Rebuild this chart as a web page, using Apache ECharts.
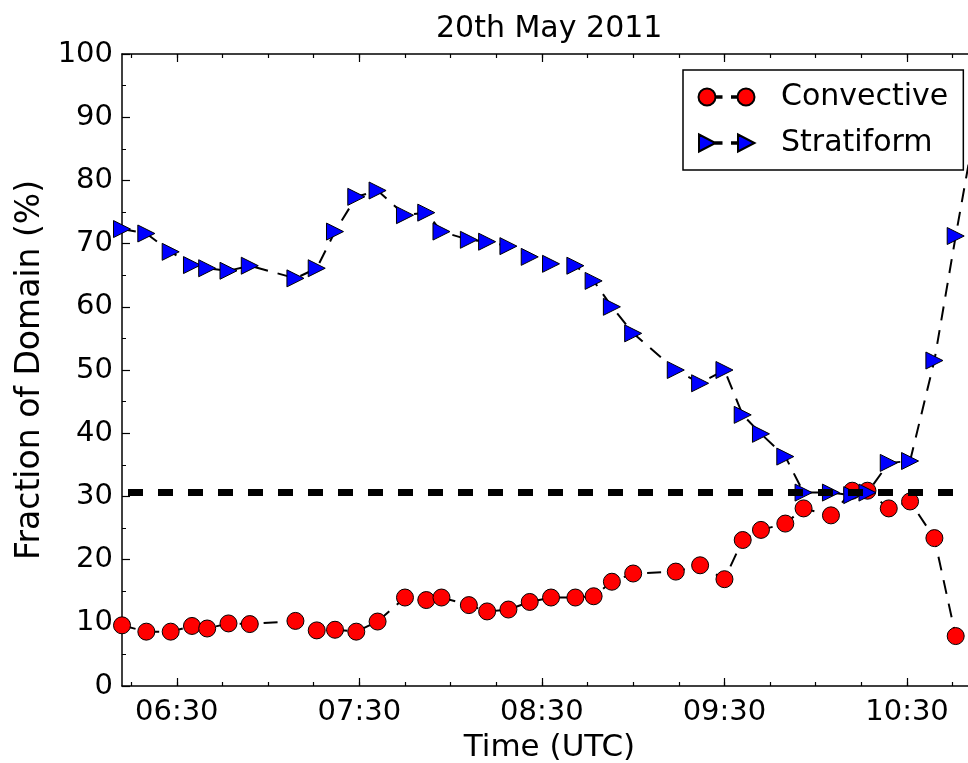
<!DOCTYPE html>
<html>
<head>
<meta charset="utf-8">
<title>20th May 2011</title>
<script src="https://cdn.jsdelivr.net/npm/echarts@6/dist/echarts.min.js"></script>
<style>
  html, body { margin: 0; padding: 0; background: #fff; }
  #chart { width: 968px; height: 763px; }
</style>
</head>
<body>
<div id="chart"></div>
<script>
  // scan times (UTC)
  var times = ['06:12', '06:20', '06:28', '06:35', '06:40', '06:47', '06:54', '07:09', '07:16', '07:22',
    '07:29', '07:36', '07:45', '07:52', '07:57', '08:06', '08:12', '08:19', '08:26', '08:33',
    '08:41', '08:47', '08:53', '09:00', '09:14', '09:22', '09:30', '09:36', '09:42', '09:50',
    '09:56', '10:05', '10:12', '10:17', '10:24', '10:31', '10:39', '10:46', '10:53']
  // fraction of domain (%)
  var convective = [9.6, 8.6, 8.6, 9.5, 9.1, 9.9, 9.8, 10.3, 8.8, 8.9,
    8.6, 10.2, 14.0, 13.6, 14.0, 12.8, 11.8, 12.1, 13.3, 14.0,
    14.0, 14.2, 16.5, 17.8, 18.1, 19.1, 16.9, 23.1, 24.7, 25.7,
    28.1, 27.0, 30.9, 30.9, 28.1, 29.2, 23.4, 7.9, 7.0]
  var stratiform = [72.3, 71.6, 68.7, 66.6, 66.1, 65.7, 66.5, 64.5, 66.1, 71.9,
    77.4, 78.4, 74.5, 74.9, 71.9, 70.6, 70.3, 69.6, 67.9, 66.8,
    66.5, 64.1, 60.0, 55.8, 50.0, 47.9, 50.0, 42.9, 39.9, 36.3,
    30.6, 30.6, 30.2, 30.6, 35.3, 35.6, 51.5, 71.2, 90.0]
  // horizontal dashed reference line
  var thresholdTimes = ['06:12', '10:53']
  var thresholdValue = 30.6
  // axis ticks
  var xTickLabels = ['06:30', '07:30', '08:30', '09:30', '10:30']
  var xMinorStep = 15 // minutes

  function toMin (s) {
    var p = s.split(':')
    return +p[0] * 60 + +p[1]
  }
  function pad (n) { return (n < 10 ? '0' : '') + n }
  function toLabel (v) {
    return pad(Math.floor(v / 60)) + ':' + pad(Math.round(v % 60))
  }

  var xMin = toMin(times[0])
  var xMax = toMin(times[times.length - 1])
  var majorTicks = xTickLabels.map(toMin)
  var minorTicks = []
  for (var t = Math.ceil(xMin / xMinorStep) * xMinorStep; t <= xMax; t += xMinorStep) minorTicks.push(t)

  var convData = times.map(function (s, i) { return [toMin(s), convective[i]] })
  var stratData = times.map(function (s, i) { return [toMin(s), stratiform[i]] })
  var threshData = thresholdTimes.map(function (s) { return [toMin(s), thresholdValue] })

  var FONT = 'DejaVu Sans'
  var circleIcon = 'path://M0,0M80,18M2.5,9a8.5,8.5 0 1,0 17,0a8.5,8.5 0 1,0 -17,0ZM19.5,8.2h6v1.6h-6ZM36,8.2h5.5v1.6h-5.5ZM41.5,9a8.5,8.5 0 1,0 17,0a8.5,8.5 0 1,0 -17,0Z'
  var triIcon = 'path://M0,0M80,18M3,0.5L19.5,9L3,17.5ZM19.5,8.2h6v1.6h-6ZM36,8.2h6v1.6h-6ZM42,0.5L58.5,9L42,17.5Z'

  function xAxisOf (pos, ticks, len, showLine, showLabel, extra) {
    var a = {
      type: 'value',
      position: pos,
      min: xMin,
      max: xMax,
      axisLine: { show: showLine, onZero: false, lineStyle: { color: '#000', width: 1.5 } },
      axisTick: { show: true, inside: true, length: len, customValues: ticks, lineStyle: { color: '#000', width: 1.2 } },
      axisLabel: { show: showLabel, customValues: ticks, formatter: toLabel, color: '#000', fontSize: 29, margin: 12, fontFamily: FONT },
      splitLine: { show: false }
    }
    return Object.assign(a, extra || {})
  }
  function yAxisOf (pos, showLabel, extra) {
    var a = {
      type: 'value',
      position: pos,
      min: 0,
      max: 100,
      interval: 10,
      axisLine: { show: true, onZero: false, lineStyle: { color: '#000', width: 1.5 } },
      axisTick: { show: true, inside: true, length: 8, lineStyle: { color: '#000', width: 1.2 } },
      minorTick: { show: true, splitNumber: 2, length: 4, lineStyle: { color: '#000', width: 1 } },
      axisLabel: { show: showLabel, color: '#000', fontSize: 29, margin: 9, fontFamily: FONT },
      splitLine: { show: false }
    }
    return Object.assign(a, extra || {})
  }

  var myChart = echarts.init(document.getElementById('chart'))
  myChart.setOption({
    animation: false,
    backgroundColor: '#fff',
    textStyle: { fontFamily: FONT },
    title: {
      text: '20th May 2011',
      left: 431,
      top: 9,
      textStyle: { fontSize: 30, fontWeight: 'normal', color: '#000', fontFamily: FONT }
    },
    legend: {
      orient: 'vertical',
      left: 683,
      top: 70,
      padding: [12, 15, 12, 12],
      itemGap: 16,
      itemWidth: 80,
      itemHeight: 18,
      borderColor: '#000',
      borderWidth: 1.5,
      backgroundColor: '#fff',
      selectedMode: false,
      textStyle: { fontSize: 30, color: '#000', fontFamily: FONT },
      data: [
        { name: 'Convective', icon: circleIcon },
        { name: 'Stratiform', icon: triIcon }
      ]
    },
    // plot box runs past the right edge of the picture, as in the original crop
    grid: { left: 122, top: 54, width: 855, height: 632, outerBoundsMode: 'none' },
    xAxis: [
      xAxisOf('bottom', majorTicks, 8, true, true, {
        name: 'Time (UTC)',
        nameLocation: 'middle',
        nameGap: 46,
        nameTextStyle: { fontSize: 31, color: '#000', fontFamily: FONT }
      }),
      xAxisOf('bottom', minorTicks, 4, false, false),
      xAxisOf('top', majorTicks, 8, true, false),
      xAxisOf('top', minorTicks, 4, false, false)
    ],
    yAxis: [
      yAxisOf('left', true, {
        name: 'Fraction of Domain (%)',
        nameLocation: 'middle',
        nameGap: 70,
        nameTextStyle: { fontSize: 33, color: '#000', fontFamily: FONT }
      }),
      yAxisOf('right', false)
    ],
    series: [
      {
        name: 'Convective',
        type: 'line',
        data: convData,
        z: 2,
        symbol: 'circle',
        symbolSize: 17,
        showAllSymbol: true,
        itemStyle: { color: '#ff0000', borderColor: '#000', borderWidth: 1 },
        lineStyle: { color: '#000', width: 2, type: [14, 10] },
        emphasis: { disabled: true }
      },
      {
        name: 'Stratiform',
        type: 'line',
        data: stratData,
        z: 3,
        symbol: 'path://M0,0L10,5L0,10Z',
        symbolSize: 17,
        showAllSymbol: true,
        itemStyle: { color: '#0000ff', borderColor: '#000', borderWidth: 1 },
        lineStyle: { color: '#000', width: 2, type: [14, 10] },
        emphasis: { disabled: true }
      },
      {
        name: 'threshold',
        type: 'line',
        data: threshData,
        z: 4,
        symbol: 'none',
        silent: true,
        lineStyle: { color: '#000', width: 7, type: [15, 15], dashOffset: 24 }
      }
    ]
  })
</script>
</body>
</html>
